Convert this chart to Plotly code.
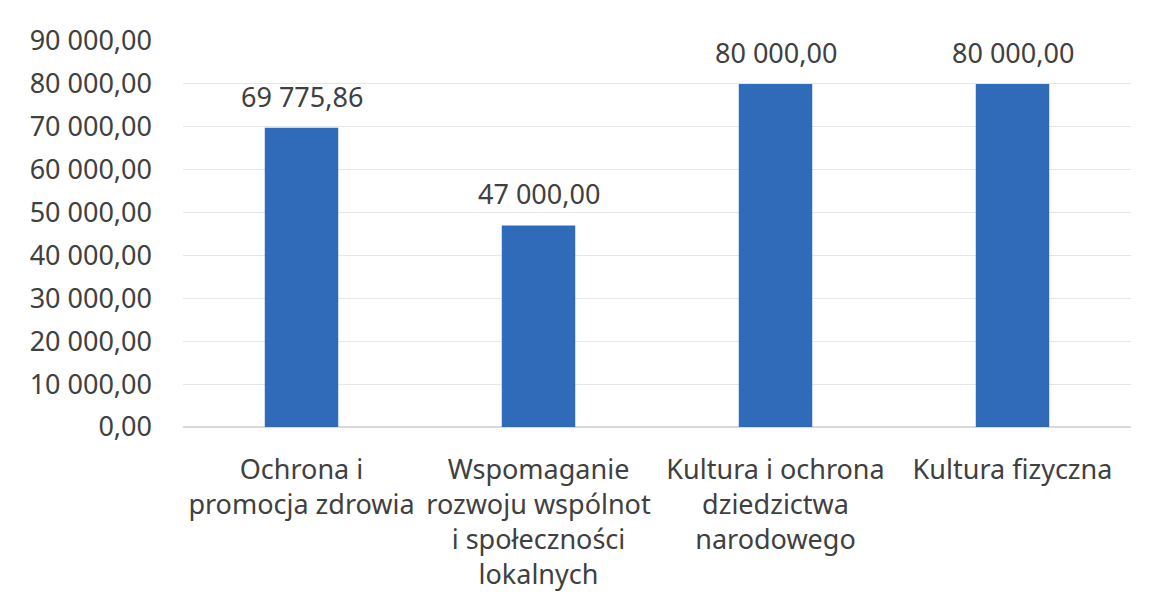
import plotly.graph_objects as go

categories = [
    "Ochrona i<br>promocja zdrowia",
    "Wspomaganie<br>rozwoju wspólnot<br>i społeczności<br>lokalnych",
    "Kultura i ochrona<br>dziedzictwa<br>narodowego",
    "Kultura fizyczna",
]
values = [69775.86, 47000.00, 80000.00, 80000.00]
tick_vals = [0, 10000, 20000, 30000, 40000, 50000, 60000, 70000, 80000, 90000]

font_family = "Noto Sans, Open Sans, sans-serif"
text_color = "#404040"

fig = go.Figure(
    go.Bar(
        x=categories,
        y=values,
        marker=dict(color="#2F6BB9", line=dict(width=0)),
        width=0.31,
        hoverinfo="x+y",
    )
)

for cat, val in zip(categories, values):
    fig.add_annotation(
        x=cat,
        y=val,
        text=f"{val:,.2f}".replace(",", " ").replace(".", ","),
        showarrow=False,
        yanchor="bottom",
        yshift=11,
        font=dict(size=27, color=text_color, family=font_family),
    )

fig.update_layout(
    width=1152,
    height=614,
    separators=", ",
    paper_bgcolor="white",
    plot_bgcolor="white",
    margin=dict(l=175, r=29, t=33, b=195, autoexpand=False),
    showlegend=False,
    font=dict(family=font_family, color=text_color, size=27),
)
fig.update_yaxes(
    range=[0, 90000],
    tickvals=tick_vals,
    tickformat=",.2f",
    showgrid=True,
    gridcolor="#e6e6e6",
    gridwidth=1,
    zeroline=True,
    zerolinecolor="#d9d9d9",
    ticks="",
    automargin=False,
    ticklabelstandoff=30,
    tickfont=dict(size=27, color=text_color),
)
fig.update_xaxes(
    showgrid=False,
    ticks="",
    automargin=False,
    ticklabelstandoff=24,
    tickfont=dict(size=27, color=text_color),
    tickangle=0,
)

fig.write_html("out.html")
